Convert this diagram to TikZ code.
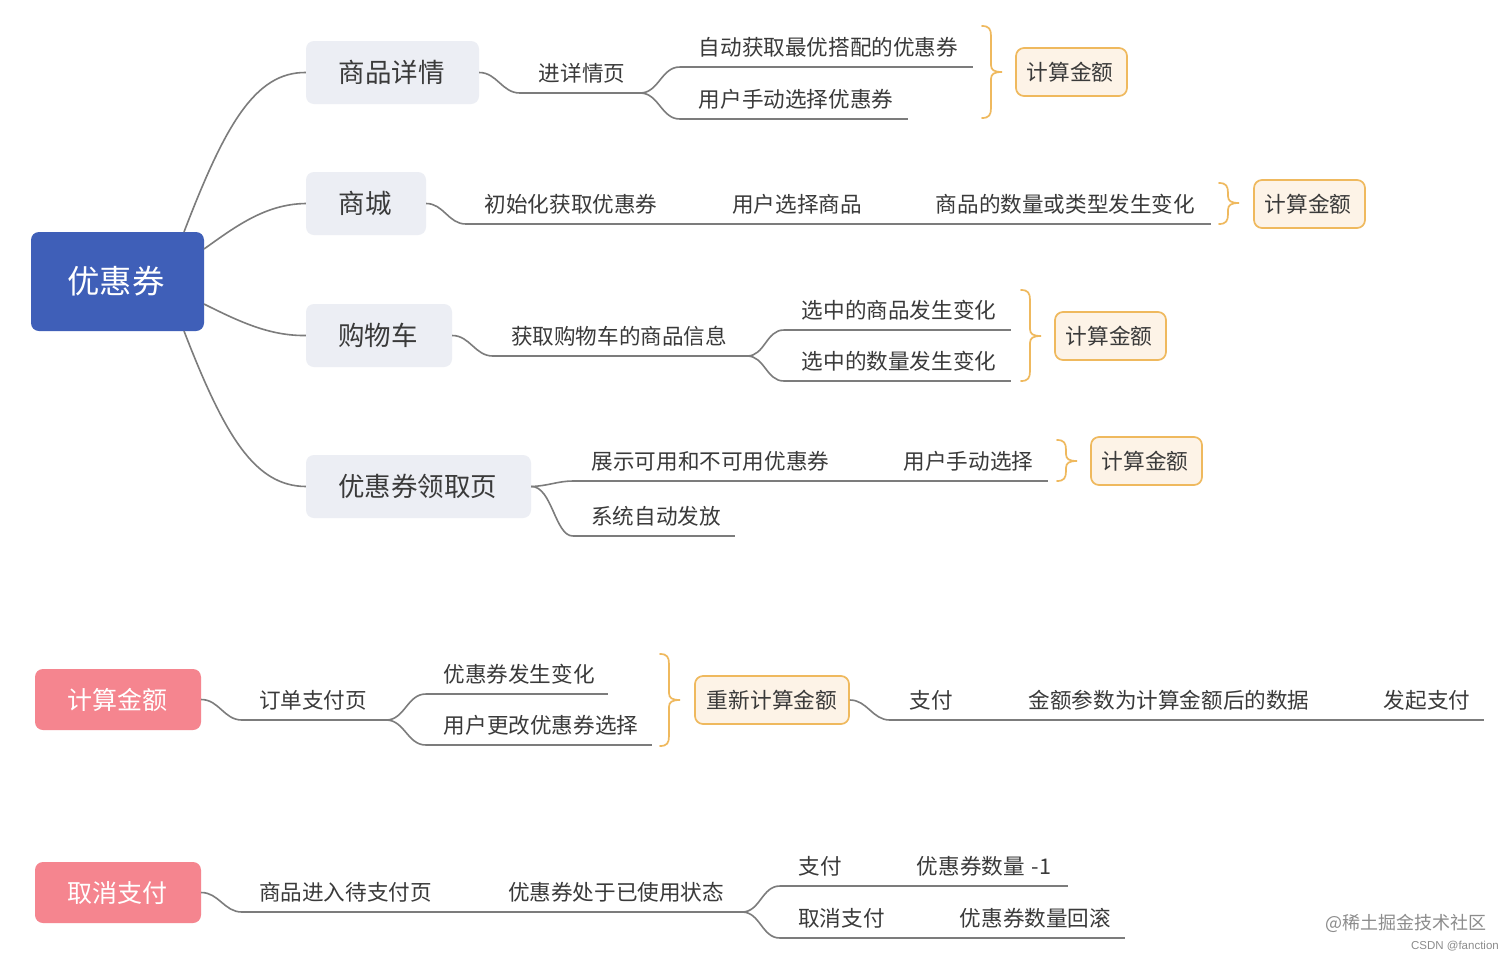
\documentclass[tikz,border=0pt]{standalone}
\usepackage{fontspec}
\setmainfont{Noto Sans CJK SC}
\newfontfamily\latinsans{Liberation Sans}
\definecolor{linegray}{HTML}{7C7C7C}
\definecolor{textgray}{HTML}{3A3A3A}
\definecolor{rootblue}{HTML}{3F5FB8}
\definecolor{topicfill}{HTML}{ECEEF4}
\definecolor{pinkfill}{HTML}{F5858F}
\definecolor{calcfill}{HTML}{FDF3E7}
\definecolor{calcline}{HTML}{EFB95E}
\tikzset{
  conn/.style={draw=linegray,line width=1.6pt},
  scurve/.style={conn,out=0,in=180},
  bracel/.style={draw=calcline,line width=1.7pt,line cap=round},
  rootbox/.style={fill=rootblue,text=white,rounded corners=8pt,inner sep=0,execute at begin node={\kern-3pt},font=\fontsize{32.4}{38}\selectfont},
  topicbox/.style={fill=topicfill,text=textgray,rounded corners=8pt,inner sep=0,execute at begin node={\kern-2pt},font=\fontsize{26.5}{32}\selectfont},
  pinkbox/.style={fill=pinkfill,text=white,rounded corners=8pt,inner sep=0,execute at begin node={\kern-2pt},font=\fontsize{25}{30}\selectfont},
  calcbox/.style={fill=calcfill,draw=calcline,line width=1.7pt,text=textgray,rounded corners=8pt,inner sep=0,execute at begin node={\kern-3pt},font=\fontsize{21.7}{26}\selectfont},
  leaf/.style={text=textgray,inner sep=0,minimum height=38.6pt,anchor=south,font=\fontsize{21.6}{26}\selectfont},
}
% name, left, right, line y, text; optional: twice the sideways offset of the text
\newcommand\leafnode[6][0]{%
  \node[leaf,minimum width={#4pt-#3pt}] (#2) at ({(#3+#4)/2},#5) {\kern#1pt #6};
  \draw[conn] (#2.south west) -- (#2.south east);
}
% x start, top, bottom, middle
\newcommand\bracemark[4]{%
  \draw[bracel] (#1,#2) .. controls (#1+7,#2) and (#1+9,#2+3) .. (#1+9,#2+10)
    -- (#1+9,#4-7) .. controls (#1+9,#4-2) and (#1+12,#4) .. (#1+20,#4)
    .. controls (#1+12,#4) and (#1+9,#4+2) .. (#1+9,#4+7)
    -- (#1+9,#3-10) .. controls (#1+9,#3-3) and (#1+7,#3) .. (#1,#3);
}
% name, left, right, top, bottom, style, text
\newcommand\boxnode[7]{%
  \node[#6,minimum width={#3pt-#2pt},minimum height={#5pt-#4pt}] (#1) at ({(#2+#3)/2},{(#4+#5)/2}) {#7};
}
\begin{document}
\begin{tikzpicture}[x=1pt,y=-1pt]
\useasboundingbox[fill=white] (0,0) rectangle (1512,959);

% root and first-level topics
\boxnode{root}{31}{204}{232}{331}{rootbox}{优惠券}
\boxnode{t1}{306}{479}{41}{104}{topicbox}{商品详情}
\boxnode{t2}{306}{426}{172}{235}{topicbox}{商城}
\boxnode{t3}{306}{452}{304}{367}{topicbox}{购物车}
\boxnode{t4}{306}{531}{455}{518}{topicbox}{优惠券领取页}
\coordinate (r1) at (184,232);
\coordinate (r2) at (204,249);
\coordinate (r3) at (204,304);
\coordinate (r4) at (184,331);
\draw[conn] (r1) .. controls (225,125) and (255,72) .. (t1.west);
\draw[conn] (r2) .. controls (235,227) and (265,204) .. (t2.west);
\draw[conn] (r3) .. controls (240,322) and (270,336) .. (t3.west);
\draw[conn] (r4) .. controls (225,437) and (255,486) .. (t4.west);

% row 1
\leafnode[4]{a}{520}{640}{93}{进详情页}
\leafnode[4]{a1}{680}{973}{67}{自动获取最优搭配的优惠券}
\leafnode[4]{a2}{680}{908}{119}{用户手动选择优惠券}
\draw[scurve] (t1.east) to (a.south west);
\draw[scurve] (a.south east) to (a1.south west);
\draw[scurve] (a.south east) to (a2.south west);
\bracemark{982}{26}{118}{72}
\boxnode{c1}{1016}{1127}{48}{96}{calcbox}{计算金额}

% row 2
\leafnode{b}{466}{676}{224}{初始化获取优惠券}
\leafnode{b1}{714}{880}{224}{用户选择商品}
\leafnode[2]{b2}{918}{1211}{224}{商品的数量或类型发生变化}
\draw[scurve] (t2.east) to (b.south west);
\draw[conn] (b.south east) -- (b1.south west);
\draw[conn] (b1.south east) -- (b2.south west);
\bracemark{1219}{183}{224}{203}
\boxnode{c2}{1254}{1365}{180}{228}{calcbox}{计算金额}

% row 3
\leafnode[-2]{d}{493}{747}{356}{获取购物车的商品信息}
\leafnode[3]{d1}{784}{1011}{330}{选中的商品发生变化}
\leafnode[3]{d2}{784}{1011}{381}{选中的数量发生变化}
\draw[scurve] (t3.east) to (d.south west);
\draw[scurve] (d.south east) to (d1.south west);
\draw[scurve] (d.south east) to (d2.south west);
\bracemark{1021}{290}{381}{336}
\boxnode{c3}{1055}{1166}{312}{360}{calcbox}{计算金额}

% row 4
\leafnode[2]{e1}{573}{846}{481}{展示可用和不可用优惠券}
\leafnode[4]{e2}{885}{1048}{481}{用户手动选择}
\leafnode[4]{e3}{573}{735}{536}{系统自动发放}
\draw[conn] (t4.east) .. controls (548,486) and (558,481) .. (e1.south west);
\draw[conn] (e1.south east) -- (e2.south west);
\draw[conn] (t4.east) .. controls (552,486) and (555,536) .. (e3.south west);
\bracemark{1057}{440}{481}{461}
\boxnode{c4}{1091}{1202}{437}{485}{calcbox}{计算金额}

% pay calculation row
\boxnode{p}{35}{201}{669}{730}{pinkbox}{计算金额}
\leafnode[-2]{f}{242}{386}{720}{订单支付页}
\leafnode[4]{f1}{426}{608}{694}{优惠券发生变化}
\leafnode[4]{f2}{426}{652}{745}{用户更改优惠券选择}
\draw[scurve] (p.east) to (f.south west);
\draw[scurve] (f.south east) to (f1.south west);
\draw[scurve] (f.south east) to (f2.south west);
\bracemark{660}{654}{746}{700}
\boxnode{g}{695}{849}{676}{724}{calcbox}{\kern3pt 重新计算金额}
\leafnode{g1}{890}{972}{720}{支付}
\leafnode[2]{g2}{1010}{1326}{720}{金额参数为计算金额后的数据}
\leafnode[5]{g3}{1365}{1484}{720}{发起支付}
\draw[scurve] (g.east) to (g1.south west);
\draw[conn] (g1.south east) -- (g2.south west);
\draw[conn] (g2.south east) -- (g3.south west);

% cancel row
\boxnode{q}{35}{201}{862}{923}{pinkbox}{取消支付}
\leafnode[-2]{h}{242}{451}{912}{商品进入待支付页}
\leafnode{h1}{490}{742}{912}{优惠券处于已使用状态}
\leafnode{i1}{780}{861}{886}{支付}
\leafnode[1]{i2}{899}{1068}{886}{优惠券数量\kern2pt\ -1}
\leafnode{j1}{780}{903}{938}{取消支付}
\leafnode[5]{j2}{941}{1125}{938}{优惠券数量回滚}
\draw[scurve] (q.east) to (h.south west);
\draw[conn] (h.south east) -- (h1.south west);
\draw[scurve] (h1.south east) to (i1.south west);
\draw[scurve] (h1.south east) to (j1.south west);
\draw[conn] (i1.south east) -- (i2.south west);
\draw[conn] (j1.south east) -- (j2.south west);

% watermarks
\node[text=black!45,inner sep=0,anchor=east,font=\fontsize{18}{22}\selectfont] (w1) at (1487,923) {@稀土掘金技术社区};
\node[text=black!45,inner sep=0,anchor=east,font=\latinsans\fontsize{11.5}{14}\selectfont] (w2) at (1499,946) {CSDN @fanction};
\end{tikzpicture}
\end{document}
